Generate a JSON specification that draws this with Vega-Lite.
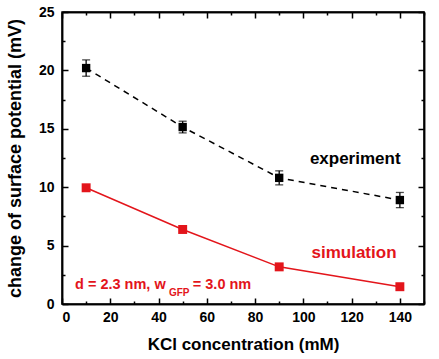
{
  "$schema": "https://vega.github.io/schema/vega-lite/v6.json",
  "width": 362,
  "height": 292,
  "autosize": "none",
  "padding": {"left": 62, "top": 12, "right": 15, "bottom": 55},
  "background": "white",
  "config": {
    "view": {"stroke": "black", "strokeWidth": 1.5},
    "font": "Liberation Sans"
  },
  "datasets": {
    "experiment": [
      {"conc": 10, "dv": 20.2, "lo": 19.5, "hi": 20.9},
      {"conc": 50, "dv": 15.15, "lo": 14.65, "hi": 15.65},
      {"conc": 90, "dv": 10.8, "lo": 10.2, "hi": 11.4},
      {"conc": 140, "dv": 8.9, "lo": 8.25, "hi": 9.55}
    ],
    "simulation": [
      {"conc": 10, "dv": 9.95},
      {"conc": 50, "dv": 6.38},
      {"conc": 90, "dv": 3.18},
      {"conc": 140, "dv": 1.48}
    ]
  },
  "layer": [
    {
      "data": {"name": "experiment"},
      "mark": {"type": "line", "color": "black", "strokeWidth": 1.5, "strokeDash": [6, 5]},
      "encoding": {
        "x": {
          "field": "conc", "type": "quantitative",
          "scale": {"domain": [0, 150], "nice": false, "zero": false},
          "axis": {
            "orient": "bottom", "zindex": 2,
            "values": [0, 20, 40, 60, 80, 100, 120, 140],
            "domain": true, "domainColor": "black", "domainWidth": 1.5, "grid": false, "ticks": true,
            "tickSize": -6, "tickColor": "black", "tickWidth": 1.5,
            "labelPadding": 12, "labelFontSize": 14, "labelFontWeight": "bold", "labelColor": "black", "labelFont": "Liberation Sans",
            "title": "KCl concentration (mM)",
            "titleFontSize": 17, "titleFontWeight": "bold", "titleColor": "black", "titleFont": "Liberation Sans",
            "titlePadding": 12
          }
        },
        "y": {
          "field": "dv", "type": "quantitative",
          "scale": {"domain": [0, 25], "nice": false, "zero": false},
          "axis": {
            "orient": "left", "zindex": 2,
            "values": [0, 5, 10, 15, 20, 25],
            "domain": true, "domainColor": "black", "domainWidth": 1.5, "grid": false, "ticks": true,
            "tickSize": -6, "tickColor": "black", "tickWidth": 1.5,
            "labelPadding": 14, "labelFontSize": 14, "labelFontWeight": "bold", "labelColor": "black", "labelFont": "Liberation Sans",
            "title": "change of surface potential (mV)",
            "titleFontSize": 18, "titleFontWeight": "bold", "titleColor": "black", "titleFont": "Liberation Sans",
            "titlePadding": 14
          }
        }
      }
    },
    {
      "data": {"name": "experiment"},
      "mark": {"type": "rule", "color": "black", "strokeWidth": 1.3},
      "encoding": {
        "x": {
          "field": "conc", "type": "quantitative",
          "axis": {
            "orient": "top", "zindex": 2,
            "values": [0, 20, 40, 60, 80, 100, 120, 140],
            "domain": true, "domainColor": "black", "domainWidth": 1.5, "grid": false, "ticks": true, "labels": false,
            "tickSize": -6, "tickColor": "black", "tickWidth": 1.5,
            "title": null
          }
        },
        "y": {
          "field": "lo", "type": "quantitative",
          "axis": {
            "orient": "right", "zindex": 2,
            "values": [0, 5, 10, 15, 20, 25],
            "domain": true, "domainColor": "black", "domainWidth": 1.5, "grid": false, "ticks": true, "labels": false,
            "tickSize": -6, "tickColor": "black", "tickWidth": 1.5,
            "title": null
          }
        },
        "y2": {"field": "hi"}
      }
    },
    {
      "data": {"name": "experiment"},
      "mark": {"type": "tick", "color": "black", "thickness": 1.3, "size": 8, "orient": "horizontal"},
      "encoding": {
        "x": {
          "field": "conc", "type": "quantitative",
          "axis": {
            "orient": "bottom", "zindex": 2,
            "values": [10, 30, 50, 70, 90, 110, 130, 150],
            "domain": true, "domainColor": "black", "domainWidth": 1.5, "grid": false, "ticks": true, "labels": false,
            "tickSize": -3, "tickColor": "black", "tickWidth": 1.5,
            "title": null
          }
        },
        "y": {
          "field": "hi", "type": "quantitative",
          "axis": {
            "orient": "left", "zindex": 2,
            "values": [2.5, 7.5, 12.5, 17.5, 22.5],
            "domain": true, "domainColor": "black", "domainWidth": 1.5, "grid": false, "ticks": true, "labels": false,
            "tickSize": -3, "tickColor": "black", "tickWidth": 1.5,
            "title": null
          }
        }
      }
    },
    {
      "data": {"name": "experiment"},
      "mark": {"type": "tick", "color": "black", "thickness": 1.3, "size": 8, "orient": "horizontal"},
      "encoding": {
        "x": {
          "field": "conc", "type": "quantitative",
          "axis": {
            "orient": "top", "zindex": 2,
            "values": [10, 30, 50, 70, 90, 110, 130, 150],
            "domain": true, "domainColor": "black", "domainWidth": 1.5, "grid": false, "ticks": true, "labels": false,
            "tickSize": -3, "tickColor": "black", "tickWidth": 1.5,
            "title": null
          }
        },
        "y": {
          "field": "lo", "type": "quantitative",
          "axis": {
            "orient": "right", "zindex": 2,
            "values": [2.5, 7.5, 12.5, 17.5, 22.5],
            "domain": true, "domainColor": "black", "domainWidth": 1.5, "grid": false, "ticks": true, "labels": false,
            "tickSize": -3, "tickColor": "black", "tickWidth": 1.5,
            "title": null
          }
        }
      }
    },
    {
      "data": {"name": "experiment"},
      "mark": {"type": "square", "color": "black", "filled": true, "opacity": 1, "size": 70},
      "encoding": {
        "x": {"field": "conc", "type": "quantitative", "axis": null},
        "y": {"field": "dv", "type": "quantitative", "axis": null}
      }
    },
    {
      "data": {"name": "simulation"},
      "mark": {"type": "line", "color": "#e3151b", "strokeWidth": 1.5},
      "encoding": {
        "x": {"field": "conc", "type": "quantitative", "axis": null},
        "y": {"field": "dv", "type": "quantitative", "axis": null}
      }
    },
    {
      "data": {"name": "simulation"},
      "mark": {"type": "square", "color": "#e3151b", "filled": true, "opacity": 1, "size": 80},
      "encoding": {
        "x": {"field": "conc", "type": "quantitative", "axis": null},
        "y": {"field": "dv", "type": "quantitative", "axis": null}
      }
    },
    {
      "data": {"values": [{"label": "experiment"}]},
      "mark": {"type": "text", "font": "Liberation Sans", "fontWeight": "bold", "fontSize": 17, "color": "black", "align": "center", "baseline": "middle"},
      "encoding": {
        "x": {"datum": 121.5, "type": "quantitative", "axis": null},
        "y": {"datum": 12.4, "type": "quantitative", "axis": null},
        "text": {"field": "label"}
      }
    },
    {
      "data": {"values": [{"label": "simulation"}]},
      "mark": {"type": "text", "font": "Liberation Sans", "fontWeight": "bold", "fontSize": 17, "color": "#e3151b", "align": "center", "baseline": "middle"},
      "encoding": {
        "x": {"datum": 121, "type": "quantitative", "axis": null},
        "y": {"datum": 4.4, "type": "quantitative", "axis": null},
        "text": {"field": "label"}
      }
    },
    {
      "data": {"values": [{"label": "d = 2.3 nm, w"}]},
      "mark": {"type": "text", "font": "Liberation Sans", "fontWeight": "bold", "fontSize": 14.5, "color": "#e3151b", "align": "left", "baseline": "middle"},
      "encoding": {
        "x": {"datum": 5.4, "type": "quantitative", "axis": null},
        "y": {"datum": 1.65, "type": "quantitative", "axis": null},
        "text": {"field": "label"}
      }
    },
    {
      "data": {"values": [{"label": "GFP"}]},
      "mark": {"type": "text", "font": "Liberation Sans", "fontWeight": "bold", "fontSize": 10, "color": "#e3151b", "align": "left", "baseline": "middle"},
      "encoding": {
        "x": {"datum": 44.3, "type": "quantitative", "axis": null},
        "y": {"datum": 0.9, "type": "quantitative", "axis": null},
        "text": {"field": "label"}
      }
    },
    {
      "data": {"values": [{"label": "= 3.0 nm"}]},
      "mark": {"type": "text", "font": "Liberation Sans", "fontWeight": "bold", "fontSize": 14.5, "color": "#e3151b", "align": "left", "baseline": "middle"},
      "encoding": {
        "x": {"datum": 54.2, "type": "quantitative", "axis": null},
        "y": {"datum": 1.65, "type": "quantitative", "axis": null},
        "text": {"field": "label"}
      }
    }
  ],
  "resolve": {"axis": {"x": "independent", "y": "independent"}}
}
